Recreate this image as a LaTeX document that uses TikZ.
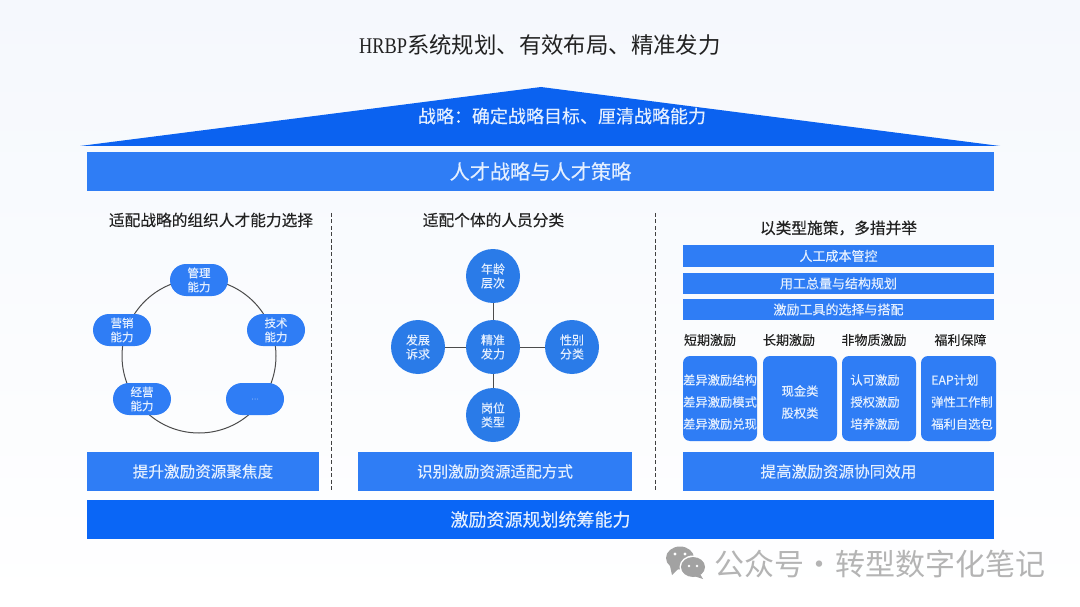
\documentclass[tikz,border=0pt]{standalone}
\usepackage{fontspec}
\setmainfont[FakeBold=0.25]{Noto Sans CJK SC}
\newfontfamily\plaincjk{Noto Sans CJK SC}
\newfontfamily\titlelatin[FakeStretch=0.82]{Liberation Serif}
\usetikzlibrary{shapes.misc,shapes.geometric}
\definecolor{bgtop}{HTML}{F5F8FD}
\definecolor{roofblue}{HTML}{0B62F0}
\definecolor{bandblue}{HTML}{2F7DF5}
\definecolor{deepblue}{HTML}{0A66F6}
\definecolor{bubble}{HTML}{2A7BE8}
\definecolor{softwhite}{HTML}{E4EFFF}
\definecolor{inktext}{HTML}{222222}
\definecolor{wmgray}{HTML}{B4B4B4}
\newcommand{\fs}[1]{\fontsize{#1}{#1}\selectfont}
\tikzset{
  x=1pt,y=-1pt,
  band/.style={fill=bandblue,draw=none,inner sep=0pt,text=softwhite,align=center},
  head/.style={text=inktext,inner sep=0pt,font=\fs{15.7}},
  sublabel/.style={text=inktext,inner sep=0pt,font=\fs{13}},
  pill/.style={rounded rectangle,fill=bandblue,draw=none,minimum width=58,minimum height=32,inner sep=0pt,text=softwhite,align=center,font=\fontsize{11.5}{14}\selectfont},
  disc/.style={circle,fill=bubble,draw=none,minimum size=54,inner sep=0pt,text=softwhite,align=center,font=\fontsize{12}{14}\selectfont},
  card/.style={fill=bandblue,draw=none,rounded corners=7,minimum width=74,minimum height=85,inner sep=0pt,text=softwhite,align=center,font=\fontsize{12.3}{22}\selectfont},
  link/.style={draw=black!70,line width=1pt},
  divider/.style={draw=black!75,line width=.9pt,dash pattern=on 4pt off 2.5pt},
}
\begin{document}
\begin{tikzpicture}
\useasboundingbox (0,0) rectangle (1080,607);
\shade[top color=bgtop,bottom color=white] (0,0) rectangle (1080,607);

% title and roof
\node[inner sep=0pt,text=inktext,font=\plaincjk\fs{22.4}] (title) at (540,45) {{\titlelatin HRBP}系统规划、有效布局、精准发力};
\fill[roofblue] (80,146) -- (541,87) -- (1000,146) -- cycle;
\node[inner sep=0pt,text=softwhite,font=\fs{18}] (roofText) at (562,116) {战略：确定战略目标、厘清战略能力};
\node[band,minimum width=907,minimum height=39,font=\fs{20.2}] (strategy) at (540.5,171.5) {人才战略与人才策略};

% section heads
\node[head] (headA) at (211,220) {适配战略的组织人才能力选择};
\node[head] (headB) at (493.5,220) {适配个体的人员分类};
\node[head] (headC) at (838.5,228) {以类型施策，多措并举};

% dividers
\coordinate (d1t) at (331.5,213); \coordinate (d1b) at (331.5,492);
\coordinate (d2t) at (655.5,213); \coordinate (d2b) at (655.5,492);
\draw[divider] (d1t) -- (d1b);
\draw[divider] (d2t) -- (d2b);

% left ring
\node[circle,draw=black!70,line width=1pt,minimum size=154,inner sep=0pt] (ring) at (199,356) {};
\node[pill] (mgmt) at (199,280) {管理\\能力};
\node[pill] (mkt) at (122,330) {营销\\能力};
\node[pill] (tech) at (276,330) {技术\\能力};
\node[pill] (oper) at (142,399) {经营\\能力};
\node[pill,font=\fs{7},text=softwhite!55!bandblue] (more) at (255,399) {…};
\node[band,minimum width=232,minimum height=39,font=\fs{15.6}] (focus) at (203,471.5) {提升激励资源聚焦度};

% middle hub
\node[disc] (hub) at (493,347) {精准\\发力};
\node[disc] (age) at (493,276) {年龄\\层次};
\node[disc] (wish) at (418,347) {发展\\诉求};
\node[disc] (sex) at (572,347) {性别\\分类};
\node[disc] (post) at (493,415) {岗位\\类型};
\draw[link] (hub) -- (age);
\draw[link] (hub) -- (wish);
\draw[link] (hub) -- (sex);
\draw[link] (hub) -- (post);
\node[band,minimum width=274,minimum height=39,font=\fs{15.6}] (match) at (495,471.5) {识别激励资源适配方式};

% right column
\node[band,minimum width=311,minimum height=21.5,font=\fs{13}] (cost) at (838.5,256) {人工成本管控};
\node[band,minimum width=311,minimum height=21.5,font=\fs{13}] (plan) at (838.5,283.5) {用工总量与结构规划};
\node[band,minimum width=311,minimum height=21.5,font=\fs{13}] (tools) at (838.5,309.5) {激励工具的选择与搭配};
\node[sublabel] (l1) at (710,340) {短期激励};
\node[sublabel] (l2) at (789,340) {长期激励};
\node[sublabel] (l3) at (874,340) {非物质激励};
\node[sublabel] (l4) at (960.5,340) {福利保障};
\node[card] (c1) at (720,398.5) {};
\node[card] (c2) at (800,398.5) {};
\node[card] (c3) at (879,398.5) {};
\node[card,minimum width=75] (c4) at (958.5,398.5) {};
\node[text=softwhite,inner sep=0pt,align=center,font=\fontsize{12.3}{22}\selectfont] (c1text) at (720,402) {差异激励结构\\差异激励模式\\差异激励兑现};
\node[text=softwhite,inner sep=0pt,align=center,font=\fontsize{12.3}{22}\selectfont] (c2text) at (800,402) {现金类\\股权类};
\node[text=softwhite,inner sep=0pt,align=center,font=\fontsize{12.3}{22}\selectfont] (c3text) at (875,402) {认可激励\\授权激励\\培养激励};
\node[text=softwhite,inner sep=0pt,align=left,font=\fontsize{12.3}{22}\selectfont] (c4text) at (962,402) {EAP计划\\弹性工作制\\福利自选包};
\node[band,minimum width=311,minimum height=39,font=\fs{15.6}] (synergy) at (838.5,471.5) {提高激励资源协同效用};

% bottom band
\node[band,fill=deepblue,minimum width=907,minimum height=39,font=\fs{18}] (base) at (540.5,519.5) {激励资源规划统筹能力};

% watermark
\fill[wmgray!90!black] (670,566) -- (672,575) -- (678,569) -- cycle;
\fill[wmgray!90!black] (680,558) ellipse [x radius=14,y radius=11.5];
\fill[white] (693,567) ellipse [x radius=13.5,y radius=11.5];
\fill[wmgray!90!black] (700,574) -- (703,579) -- (694,576) -- cycle;
\fill[wmgray!90!black] (693,567) ellipse [x radius=12,y radius=10];
\fill[white] (675,554) circle [radius=1.7];
\fill[white] (685,554) circle [radius=1.7];
\fill[white] (689,566) circle [radius=1.4];
\fill[white] (697,566) circle [radius=1.4];
\node[inner sep=0pt,anchor=west,text=wmgray,font=\plaincjk\fs{30}] (wm) at (714,564) {公众号\makebox[31pt][c]{·}转型数字化笔记};
\end{tikzpicture}
\end{document}
